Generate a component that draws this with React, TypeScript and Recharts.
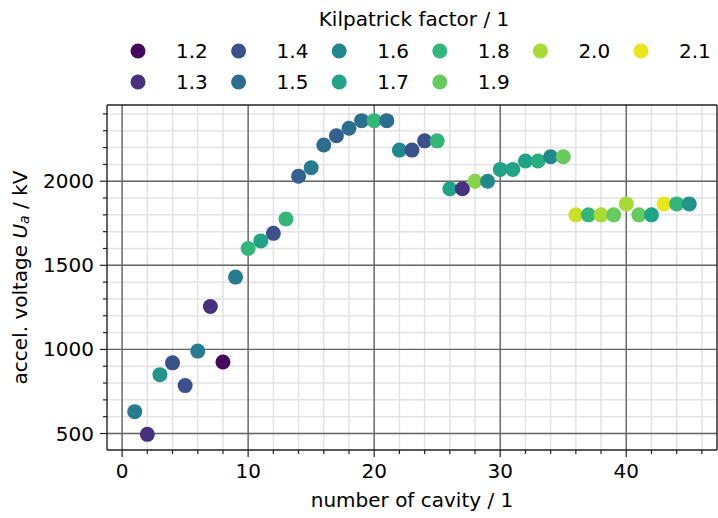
import React from "react";
import {
  ScatterChart,
  Scatter,
  XAxis,
  YAxis,
  ReferenceLine,
  Cell,
} from "recharts";

// cavity number, accel. voltage (kV), Kilpatrick factor
const cavity = [
  1, 2, 3, 4, 5, 6, 7, 8, 9, 10, 11, 12, 13, 14, 15, 16, 17, 18, 19, 20, 21, 22,
  23, 24, 25, 26, 27, 28, 29, 30, 31, 32, 33, 34, 35, 36, 37, 38, 39, 40, 41, 42,
  43, 44, 45,
];
const voltage = [
  630, 495, 850, 920, 785, 990, 1255, 925, 1430, 1600, 1645, 1690, 1775, 2030,
  2080, 2215, 2270, 2315, 2360, 2360, 2360, 2185, 2185, 2240, 2240, 1955, 1955,
  2000, 2000, 2070, 2070, 2120, 2120, 2145, 2145, 1800, 1800, 1800, 1800, 1865,
  1800, 1800, 1865, 1865, 1865,
];
const kilpatrick = [
  1.55, 1.3, 1.65, 1.4, 1.4, 1.55, 1.3, 1.2, 1.55, 1.8, 1.7, 1.4, 1.8, 1.45,
  1.55, 1.5, 1.45, 1.5, 1.5, 1.8, 1.5, 1.6, 1.4, 1.4, 1.8, 1.7, 1.3, 1.95, 1.6,
  1.7, 1.7, 1.7, 1.75, 1.6, 1.9, 2.05, 1.8, 2.0, 1.9, 2.0, 1.9, 1.7, 2.1, 1.8,
  1.65,
];

// legend levels and their colours
const levels = [1.2, 1.3, 1.4, 1.5, 1.6, 1.7, 1.8, 1.9, 2.0, 2.1];
const levelColors = [
  "#46085c",
  "#46327e",
  "#3b518b",
  "#2c6e8e",
  "#23888e",
  "#20a386",
  "#33b67a",
  "#65cb5e",
  "#a8db34",
  "#ede51b",
];
// legend layout: indices of levels per column
const legendColumns = [[0, 1], [2, 3], [4, 5], [6, 7], [8], [9]];

const xMajor = [0, 10, 20, 30, 40];
const yMajor = [500, 1000, 1500, 2000];

const FONT = "'DejaVu Sans', sans-serif";
const FS = 20;

const hexToRgb = (h: string) => [
  parseInt(h.slice(1, 3), 16),
  parseInt(h.slice(3, 5), 16),
  parseInt(h.slice(5, 7), 16),
];

// interpolate between legend colours
const colorFor = (k: number) => {
  const t = Math.max(0, Math.min(levels.length - 1, (k - 1.2) / 0.1));
  const i = Math.min(levels.length - 2, Math.floor(t));
  const f = t - i;
  const a = hexToRgb(levelColors[i]);
  const b = hexToRgb(levelColors[i + 1]);
  const c = a.map((v, j) => Math.round(v + (b[j] - v) * f));
  return `rgb(${c[0]},${c[1]},${c[2]})`;
};

const data = cavity.map((n, i) => ({
  n,
  u: voltage[i],
  k: kilpatrick[i],
}));

const xMinor: number[] = [];
for (let v = 0; v <= 46; v += 2) xMinor.push(v);
const yMinor: number[] = [];
for (let v = 500; v <= 2400; v += 100) yMinor.push(v);

const XTick = ({ x, y, payload }: any) => {
  const major = payload.value % 10 === 0;
  return (
    <g>
      <line x1={x} x2={x} y1={y} y2={y + (major ? 7 : 4)} stroke="#222" strokeWidth={1.2} />
      {major && (
        <text x={x} y={y + 28} textAnchor="middle" fontSize={FS} fontFamily={FONT} fill="#000">
          {payload.value}
        </text>
      )}
    </g>
  );
};

const YTick = ({ x, y, payload }: any) => {
  const major = payload.value % 500 === 0;
  return (
    <g>
      <line x1={x} x2={x - (major ? 7 : 4)} y1={y} y2={y} stroke="#222" strokeWidth={1.2} />
      {major && (
        <text x={x - 13} y={y + 7} textAnchor="end" fontSize={FS} fontFamily={FONT} fill="#000">
          {payload.value}
        </text>
      )}
    </g>
  );
};

const YLabel = ({ viewBox }: any) => {
  const cx = 20;
  const cy = viewBox.y + viewBox.height / 2;
  return (
    <text
      x={cx}
      y={cy}
      transform={`rotate(-90, ${cx}, ${cy})`}
      textAnchor="middle"
      dominantBaseline="central"
      fontSize={FS}
      fontFamily={FONT}
      fill="#000"
    >
      accel. voltage <tspan fontStyle="italic">U</tspan>
      <tspan fontStyle="italic" fontSize={FS * 0.7} dy={4}>a</tspan>
      <tspan dy={-4}> / kV</tspan>
    </text>
  );
};

const Dot = (props: any) => (
  <circle cx={props.cx} cy={props.cy} r={7.5} fill={props.fill} />
);

const Legend = () => (
  <svg width={718} height={100} style={{ position: "absolute", left: 0, top: 0 }}>
    <text x={414} y={26} textAnchor="middle" fontSize={FS} fontFamily={FONT} fill="#000">
      Kilpatrick factor / 1
    </text>
    {legendColumns.map((col, c) =>
      col.map((i, r) => {
        const mx = 138 + c * 100.6;
        const my = 51 + r * 31;
        return (
          <g key={i}>
            <circle cx={mx} cy={my} r={7.5} fill={levelColors[i]} />
            <text x={mx + 38} y={my + 7} fontSize={FS} fontFamily={FONT} fill="#000">
              {levels[i].toFixed(1)}
            </text>
          </g>
        );
      })
    )}
  </svg>
);

export default function App() {
  return (
    <div style={{ position: "fixed", left: 0, top: 0, width: 718, height: 518, background: "#fff" }}>
      <ScatterChart
        width={718}
        height={518}
        margin={{ top: 105, right: 1, bottom: 38, left: 47 }}
      >
        {xMinor.map((v) => (
          <ReferenceLine key={"xm" + v} x={v} stroke="#e3e3e3" strokeWidth={1.5} />
        ))}
        {yMinor.map((v) => (
          <ReferenceLine key={"ym" + v} y={v} stroke="#e3e3e3" strokeWidth={1.5} />
        ))}
        {xMajor.map((v) => (
          <ReferenceLine key={"xM" + v} x={v} stroke="#666" strokeWidth={1.4} />
        ))}
        {yMajor.map((v) => (
          <ReferenceLine key={"yM" + v} y={v} stroke="#666" strokeWidth={1.4} />
        ))}
        <ReferenceLine x={47.2} stroke="#222" strokeWidth={1.4} />
        <ReferenceLine y={2453} stroke="#222" strokeWidth={1.4} />
        <XAxis
          type="number"
          dataKey="n"
          domain={[-1.2, 47.2]}
          ticks={xMinor}
          interval={0}
          allowDataOverflow
          height={30}
          tickSize={0}
          tickMargin={0}
          tick={<XTick />}
          stroke="#222"
          strokeWidth={1.4}
          label={{
            value: "number of cavity / 1",
            position: "insideBottom",
            offset: -27,
            fontSize: FS,
            fontFamily: FONT,
            fill: "#000",
          }}
        />
        <YAxis
          type="number"
          dataKey="u"
          domain={[402, 2453]}
          ticks={yMinor}
          interval={0}
          allowDataOverflow
          width={60}
          tickSize={0}
          tickMargin={0}
          tick={<YTick />}
          stroke="#222"
          strokeWidth={1.4}
          label={<YLabel />}
        />
        <Scatter data={data} shape={<Dot />} isAnimationActive={false}>
          {data.map((d, i) => (
            <Cell key={i} fill={colorFor(d.k)} />
          ))}
        </Scatter>
      </ScatterChart>
      <Legend />
    </div>
  );
}
